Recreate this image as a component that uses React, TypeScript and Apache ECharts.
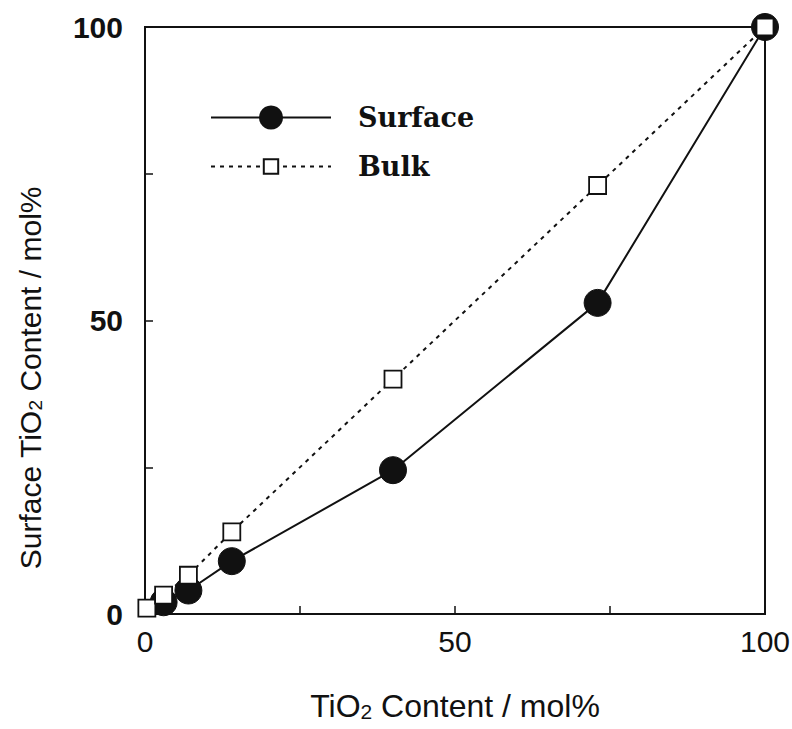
import React, { useEffect, useRef } from "react";
import * as echarts from "echarts";

const bulkX = [0.3, 3, 7, 14, 40, 73, 100];
const bulkY = [1, 3.2, 6.6, 14, 40, 73, 100];
const surfaceX = [3, 7, 14, 40, 73, 100];
const surfaceY = [2, 4, 9, 24.5, 53, 100];
const axisTicks = [0, 25, 50, 75, 100];
const labelledTicks = [0, 50, 100];

const SANS = "'Liberation Sans', Arial, sans-serif";
const SERIF = "'DejaVu Serif', 'Liberation Serif', serif";

export default function App() {
  const ref = useRef<HTMLDivElement>(null);
  useEffect(() => {
    if (!ref.current) return;
    const chart = echarts.init(ref.current, undefined, { renderer: "svg" });
    const fmt = (v: number) => (labelledTicks.includes(v) ? String(v) : "");
    const pairs = (xs: number[], ys: number[]) => xs.map((x, i) => [x, ys[i]]);
    chart.setOption({
      animation: false,
      backgroundColor: "#fff",
      grid: {
        left: 145,
        right: 27,
        top: 27,
        bottom: 115,
        show: true,
        borderColor: "#111",
        borderWidth: 2,
        containLabel: false,
        outerBoundsMode: "none",
      },
      legend: [
        {
          data: ["Surface"],
          orient: "vertical",
          left: 205,
          top: 99,
          itemWidth: 120,
          itemHeight: 30,
          textStyle: { fontFamily: SERIF, fontWeight: "bold", fontSize: 27, color: "#111", padding: [0, 0, 0, 22] },
        },
        {
          data: ["Bulk"],
          orient: "vertical",
          left: 205,
          top: 148,
          itemWidth: 120,
          itemHeight: 18,
          textStyle: { fontFamily: SERIF, fontWeight: "bold", fontSize: 27, color: "#111", padding: [0, 0, 0, 22] },
        },
      ],
      xAxis: {
        type: "value",
        min: axisTicks[0],
        max: axisTicks[axisTicks.length - 1],
        interval: 25,
        name: "TiO{s|2} Content / mol%",
        nameLocation: "middle",
        nameGap: 76,
        nameTextStyle: {
          fontFamily: SANS,
          fontSize: 32,
          color: "#111",
          lineHeight: 32,
          rich: { s: { fontFamily: SANS, fontSize: 21, color: "#111", verticalAlign: "bottom", lineHeight: 18 } },
        },
        axisLine: { lineStyle: { color: "#111", width: 2 } },
        axisTick: { inside: true, length: 8, lineStyle: { color: "#111", width: 1.5 } },
        axisLabel: { formatter: fmt, fontFamily: SANS, fontSize: 30, color: "#111", margin: 12 },
        splitLine: { show: false },
      },
      yAxis: {
        type: "value",
        min: axisTicks[0],
        max: axisTicks[axisTicks.length - 1],
        interval: 25,
        axisLine: { lineStyle: { color: "#111", width: 2 } },
        axisTick: { inside: true, length: 8, lineStyle: { color: "#111", width: 1.5 } },
        axisLabel: { formatter: fmt, fontFamily: SANS, fontWeight: "bold", fontSize: 30, color: "#111", margin: 22 },
        splitLine: { show: false },
      },
      graphic: [
        {
          type: "text",
          x: 30,
          y: 378,
          rotation: Math.PI / 2,
          style: {
            text: "Surface TiO{s|2} Content / mol%",
            fontFamily: SANS,
            fontSize: 30,
            fill: "#111",
            align: "center",
            verticalAlign: "middle",
            rich: { s: { fontFamily: SANS, fontSize: 19, fill: "#111", verticalAlign: "bottom", lineHeight: 16 } },
          },
        },
      ],
      series: [
        {
          name: "Surface",
          type: "line",
          data: pairs(surfaceX, surfaceY),
          symbol: "circle",
          symbolSize: 27,
          lineStyle: { color: "#111", width: 2, type: "solid" },
          itemStyle: { color: "#111", borderColor: "#111" },
          z: 2,
        },
        {
          name: "Bulk",
          type: "line",
          data: pairs(bulkX, bulkY),
          symbol: "rect",
          symbolSize: 17,
          lineStyle: { color: "#111", width: 2, type: [4, 5] },
          itemStyle: { color: "#fff", borderColor: "#111", borderWidth: 1.8 },
          z: 3,
        },
      ],
    });
    return () => chart.dispose();
  }, []);
  return (
    <div
      ref={ref}
      style={{ position: "fixed", left: 0, top: 0, width: 792, height: 729, background: "#fff" }}
    />
  );
}
